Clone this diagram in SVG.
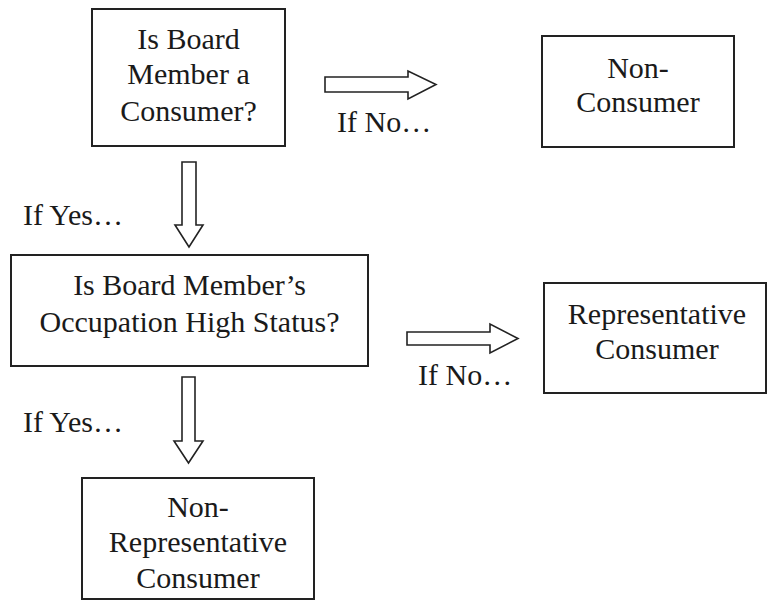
<svg xmlns="http://www.w3.org/2000/svg" width="770" height="601" viewBox="0 0 770 601">
<style>
.box{fill:#fff;stroke:#222;stroke-width:2}
.arr{fill:#fff;stroke:#222;stroke-width:1.6;stroke-linejoin:miter}
text{font-family:"Liberation Serif","Times New Roman",serif;font-size:30px;fill:#1a1a1a}
.c{text-anchor:middle}
</style>
<rect width="770" height="601" fill="#fff"/>
<g id="q1">
<rect class="box" x="92" y="9" width="193" height="137"/>
<text class="c" x="188.5" y="49">Is Board</text>
<text class="c" x="188.5" y="84">Member a</text>
<text class="c" x="188.5" y="121">Consumer?</text>
</g>
<g id="nonconsumer">
<rect class="box" x="542" y="36" width="192" height="111"/>
<text class="c" x="638" y="78">Non-</text>
<text class="c" x="638" y="112">Consumer</text>
</g>
<g id="q2">
<rect class="box" x="11" y="255" width="357" height="111"/>
<text class="c" x="189.5" y="295">Is Board Member’s</text>
<text class="c" x="189.5" y="332">Occupation High Status?</text>
</g>
<g id="representative">
<rect class="box" x="544" y="283" width="222" height="110"/>
<text class="c" x="657" y="324">Representative</text>
<text class="c" x="657" y="359">Consumer</text>
</g>
<g id="nonrepresentative">
<rect class="box" x="82" y="478" width="232" height="121"/>
<text class="c" x="198" y="517">Non-</text>
<text class="c" x="198" y="552">Representative</text>
<text class="c" x="198" y="588">Consumer</text>
</g>
<g id="connectors">
<polygon class="arr" points="325,77 408,77 408,71 436,84.5 408,99 408,92 325,92"/>
<polygon class="arr" points="407,332 490,332 490,324 518,338.5 490,353 490,345 407,345"/>
<polygon class="arr" points="182,162 196,162 196,225 203,225 189,247 175,225 182,225"/>
<polygon class="arr" points="182,377 195,377 195,441 203,441 188.5,463 174,441 182,441"/>
<text x="337" y="132">If No…</text>
<text x="418" y="385">If No…</text>
<text x="23" y="225">If Yes…</text>
<text x="23" y="432">If Yes…</text>
</g>
</svg>
